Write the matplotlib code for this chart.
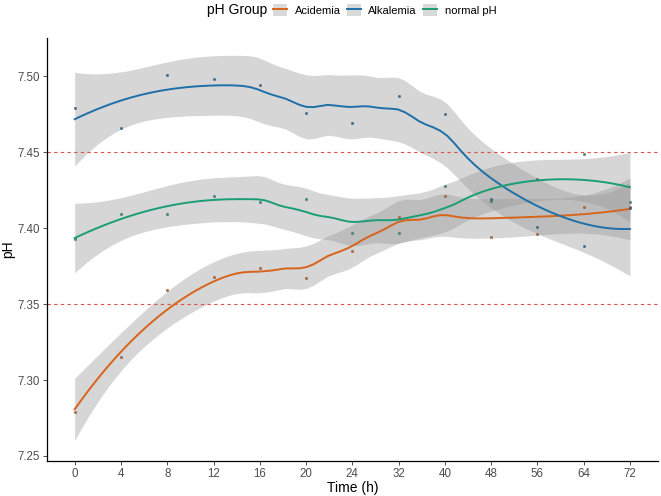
import math
import numpy as np
import matplotlib.pyplot as plt
from matplotlib.patches import Patch
from matplotlib.lines import Line2D

plt.rcParams['font.family'] = ['Liberation Sans', 'DejaVu Sans']

# mean pH per time point
time_labels = ['0', '4', '8', '12', '16', '20', '24', '32', '40', '48', '56', '64', '72']
acidemia = [7.279, 7.315, 7.359, 7.368, 7.374, 7.367, 7.385, 7.407, 7.421, 7.394, 7.396, 7.414, 7.414]
alkalemia = [7.479, 7.466, 7.501, 7.498, 7.494, 7.476, 7.469, 7.487, 7.475, 7.419, 7.401, 7.388, 7.413]
normal_ph = [7.393, 7.409, 7.409, 7.421, 7.417, 7.419, 7.397, 7.397, 7.428, 7.418, 7.4325, 7.449, 7.417]

groups = ['Acidemia', 'Alkalemia', 'normal pH']
series = [acidemia, alkalemia, normal_ph]
colors = ['#D8641B', '#1F6FA8', '#1B9E77']
limits = [7.35, 7.45]


def t_quantile(p, df):
    grid = np.linspace(0, 30, 30001)
    logc = math.lgamma((df + 1) / 2) - math.lgamma(df / 2) - 0.5 * math.log(df * math.pi)
    pdf = np.exp(logc - (df + 1) / 2 * np.log1p(grid ** 2 / df))
    cdf = 0.5 + np.concatenate([[0], np.cumsum((pdf[1:] + pdf[:-1]) / 2 * np.diff(grid))])
    return np.interp(p, cdf, grid)


def loess(x, y, xnew, span=0.75):
    # local quadratic fit with tricube weights, like geom_smooth(method="loess")
    n = len(x)
    q = int(np.floor(n * span))

    def row(x0):
        d = np.abs(x - x0)
        h = np.sort(d)[q - 1] * 1.0001
        w = (1 - np.clip(d / h, 0, 1) ** 3) ** 3
        X = np.column_stack([np.ones(n), x - x0, (x - x0) ** 2])
        XtW = X.T * w
        return np.linalg.solve(XtW @ X, XtW)[0]

    L = np.array([row(v) for v in x])
    G = np.array([row(v) for v in xnew])
    R = np.eye(n) - L
    RR = R.T @ R
    d1 = np.trace(RR)
    d2 = np.trace(RR @ RR)
    res = y - L @ y
    sigma = np.sqrt(np.sum(res ** 2) / d1)
    fit = G @ y
    se = sigma * np.sqrt(np.sum(G ** 2, axis=1))
    t = t_quantile(0.975, d1 ** 2 / d2)
    return fit, fit - t * se, fit + t * se


fig, ax = plt.subplots(figsize=(6.61, 4.96), dpi=100)
fig.subplots_adjust(left=0.071, right=0.995, bottom=0.0706, top=0.923)

x = np.arange(len(time_labels), dtype=float)
xs = np.linspace(x[0], x[-1], 80)

for vals, c in zip(series, colors):
    fit, lo, hi = loess(x, np.array(vals), xs)
    ax.fill_between(xs, lo, hi, color='#999999', alpha=0.4, lw=0, zorder=1)
    ax.plot(xs, fit, color=c, lw=1.4, zorder=3)
    ax.scatter(x, vals, s=3, color=c, edgecolors='#555555', linewidths=0.3, zorder=4)

for v in limits:
    ax.axhline(v, color='#E0504A', lw=0.8, ls=(0, (3, 3)), zorder=2)

ax.set_xlim(-0.6, len(time_labels) - 0.4)
ax.set_ylim(7.2467, 7.525)
ax.set_xticks(x)
ax.set_xticklabels(time_labels)
ax.set_yticks([7.25, 7.30, 7.35, 7.40, 7.45, 7.50])
ax.set_yticklabels(['7.25', '7.30', '7.35', '7.40', '7.45', '7.50'])
ax.tick_params(colors='#333333', labelcolor='#4D4D4D', labelsize=8.3, length=3, width=0.6, pad=2)
for s in ['top', 'right']:
    ax.spines[s].set_visible(False)
for s in ['left', 'bottom']:
    ax.spines[s].set_linewidth(0.9)
ax.set_xlabel('Time (h)', fontsize=10, labelpad=1)
ax.set_ylabel('pH', fontsize=10, labelpad=2)

handles = [(Patch(facecolor='#D9D9D9', edgecolor='none'), Line2D([], [], color=c, lw=1.4)) for c in colors]
fig.text(207 / 661, 1 - 10 / 496, 'pH Group', fontsize=10, va='center', ha='left')
fig.legend(handles, groups, loc='center left', bbox_to_anchor=(273 / 661, 1 - 10 / 496),
           ncol=3, frameon=False, fontsize=8, handlelength=1.25, handleheight=1.25,
           handletextpad=0.7, columnspacing=0.55, borderaxespad=0, borderpad=0)

fig.savefig('out.png', dpi=100)
